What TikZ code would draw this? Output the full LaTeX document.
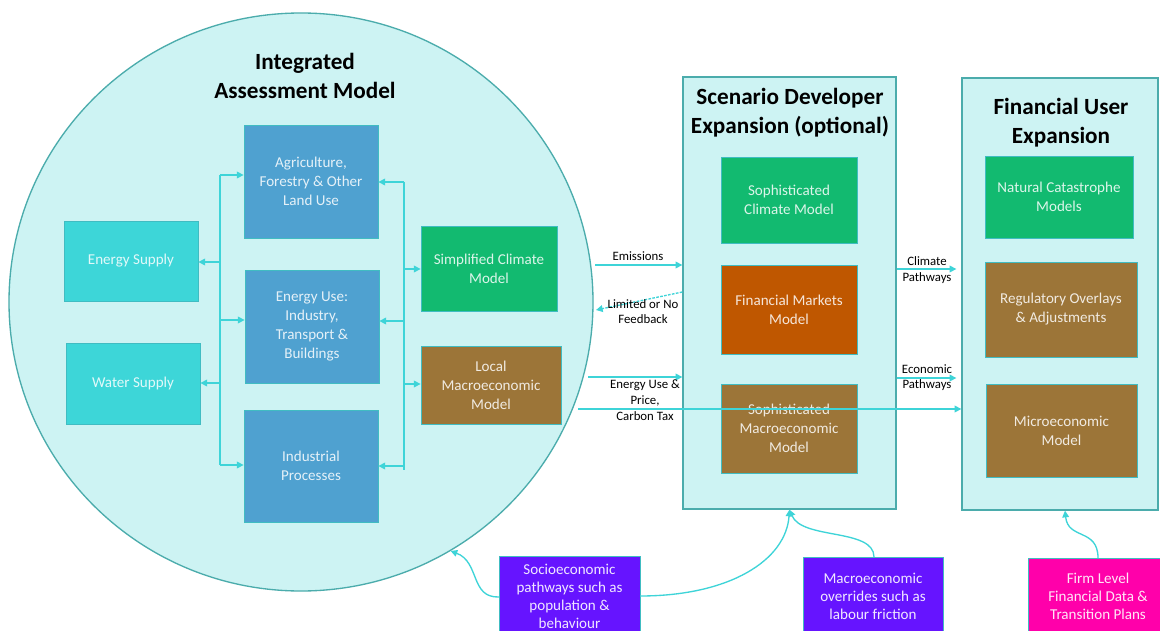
\documentclass[tikz,border=0pt]{standalone}
\usepackage{fontspec}
\setmainfont{Carlito}
\usetikzlibrary{arrows.meta,shapes.geometric}

\definecolor{panelfill}{HTML}{CDF3F3}
\definecolor{panelline}{HTML}{4BACAC}
\definecolor{boxline}{HTML}{40BCC2}
\definecolor{arrowc}{HTML}{3ED4D8}
\definecolor{cyanbox}{HTML}{3DD6D8}
\definecolor{bluebox}{HTML}{4FA1D0}
\definecolor{greenbox}{HTML}{12BA70}
\definecolor{brownbox}{HTML}{9C7538}
\definecolor{orangebox}{HTML}{BF5700}
\definecolor{purplebox}{HTML}{6614FF}
\definecolor{magentabox}{HTML}{FF00AA}

\begin{document}
\begin{tikzpicture}[x=0.75pt,y=-0.75pt,
  sz/.style 2 args={minimum width=#1*0.75pt, minimum height=#2*0.75pt},
  box/.style={draw=boxline, line width=0.6pt, text=white, text opacity=0.85,
    align=center, inner sep=2pt, font=\fontsize{11.3}{14.2}\selectfont},
  inbox/.style={box, text opacity=0.9, font=\fontsize{11.3}{13.6}\selectfont},
  panel/.style={draw=panelline, fill=panelfill, line width=1pt, inner sep=0pt},
  heading/.style={align=center, font=\fontsize{17.4}{21.5}\selectfont\bfseries},
  lbl/.style={align=center, inner sep=0pt, font=\fontsize{9.6}{11.8}\selectfont},
  link/.style={draw=arrowc, line width=1pt},
  arr/.style={link, -{Triangle[length=5pt,width=5pt]}}]

\clip (0,0) rectangle (1160,631);
\fill[white] (0,0) rectangle (1160,631);

% Integrated assessment model
\node[ellipse, panel, sz={584}{578}] (iam) at (301,302) {};
\node[heading] (iamT) at (305,76) {Integrated\\Assessment Model};

\node[box, fill=cyanbox, sz={134}{80}] (es) at (131,261) {Energy Supply};
\node[box, fill=cyanbox, sz={134}{81}] (ws) at (133,383.5) {Water Supply};
\node[box, fill=bluebox, sz={134}{113}] (agri) at (311,181.5) {Agriculture,\\Forestry \& Other\\Land Use};
\node[box, fill=bluebox, sz={134}{113}] (eu) at (312,326.5) {Energy Use:\\Industry,\\Transport \&\\Buildings};
\node[box, fill=bluebox, sz={134}{112}] (ind) at (311,466) {Industrial\\Processes};
\node[box, fill=greenbox, sz={136}{85}] (scm) at (489,268.5) {Simplified Climate\\Model};
\node[box, fill=brownbox, sz={140}{78}] (lmm) at (491,385) {Local\\Macroeconomic\\Model};

% Scenario developer expansion
\node[panel, sz={213}{432}] (sd) at (789.5,293) {};
\node[heading] (sdT) at (790,112.5) {Scenario Developer\\Expansion (optional)};
\node[box, fill=greenbox, sz={136}{86}] (sclim) at (789,200) {Sophisticated\\Climate Model};
\node[box, fill=orangebox, sz={136}{89}] (fmm) at (789,309.5) {Financial Markets\\Model};
\node[box, fill=brownbox, sz={136}{89}] (smac) at (789,428.5) {Sophisticated\\Macroeconomic\\Model};

% Financial user expansion
\node[panel, sz={196}{432}] (fu) at (1060,294) {};
\node[heading] (fuT) at (1061,122.5) {Financial User\\Expansion};
\node[box, fill=greenbox, sz={148}{82}] (ncat) at (1059,197) {Natural Catastrophe\\Models};
\node[box, fill=brownbox, sz={152}{95}] (reg) at (1061,309.5) {Regulatory Overlays\\\& Adjustments};
\node[box, fill=brownbox, sz={151}{93}] (micro) at (1061.5,430.5) {Microeconomic\\Model};

% External inputs
\node[inbox, fill=purplebox, sz={141}{80}] (socio) at (569.5,596.5) {Socioeconomic\\pathways such as\\population \&\\behaviour};
\node[inbox, fill=purplebox, sz={140}{78}] (macro) at (873,596) {Macroeconomic\\overrides such as\\labour friction};
\node[inbox, fill=magentabox, sz={140}{77}] (firm) at (1098,596.5) {Firm Level\\Financial Data \&\\Transition Plans};

% Left bus inside the model
\coordinate (lbA) at (220,175);
\coordinate (lbB) at (220,465);
\coordinate (lbC) at (220,320);
\coordinate (lbD) at (220,262);
\coordinate (lbE) at (220,383);
\draw[link] (lbA) -- (lbB);
\draw[arr] (lbA) -- (lbA -| agri.west);
\draw[arr] (lbC) -- (lbC -| eu.west);
\draw[arr] (lbB) -- (lbB -| ind.west);
\draw[arr] (lbD) -- (lbD -| es.east);
\draw[arr] (lbE) -- (lbE -| ws.east);

% Right bus inside the model
\coordinate (rbA) at (404,182);
\coordinate (rbB) at (404,470);
\coordinate (rbC) at (404,321);
\coordinate (rbD) at (404,466);
\coordinate (rbE) at (404,269);
\coordinate (rbF) at (404,384);
\draw[link] (rbA) -- (rbB);
\draw[arr] (rbA) -- (rbA -| agri.east);
\draw[arr] (rbC) -- (rbC -| eu.east);
\draw[arr] (rbD) -- (rbD -| ind.east);
\draw[arr] (rbE) -- (rbE -| scm.west);
\draw[arr] (rbF) -- (rbF -| lmm.west);

% Flows between the blocks
\coordinate (emA) at (595,265);
\draw[arr] (emA) -- (emA -| sd.west);
\node[lbl] (emL) at (638,256) {Emissions};

\coordinate (fbA) at (683,292);
\coordinate (fbB) at (596,310);
\draw[arr, dash pattern=on 2pt off 1pt] (fbA -| sd.west) -- (fbB);
\node[lbl] (fbL) at (643,311.5) {Limited or No\\Feedback};

\coordinate (euA) at (588,377);
\draw[arr] (euA) -- (euA -| sd.west);
\node[lbl, font=\fontsize{9.6}{12}\selectfont] (euL) at (645,400) {Energy Use \&\\Price,\\Carbon Tax};

\coordinate (ltA) at (578,409);
\draw[arr] (ltA) -- (ltA -| fu.west);

\coordinate (cpA) at (896,269);
\draw[arr, shorten >=3.75pt] (cpA -| sd.east) -- (cpA -| fu.west);
\node[lbl] (cpL) at (927,270) {Climate\\Pathways};

\coordinate (epA) at (896,378);
\draw[arr, shorten >=3.75pt] (epA -| sd.east) -- (epA -| fu.west);
\node[lbl] (epL) at (927,377.5) {Economic\\Pathways};

% Inputs feeding the blocks
\coordinate (soW) at (499,597);
\coordinate (soE) at (640,596);
\coordinate (maN) at (874,557);
\coordinate (fiN) at (1098,558);
\draw[arr] (soW) .. controls (470,598) and (480,562) .. (iam.-59);
\draw[arr] (soE) .. controls (730,596) and (786,560) .. (sd.south);
\draw[arr] (maN) .. controls (874,528) and (802,540) .. (sd.south);
\draw[arr] (fiN) .. controls (1098,528) and (1068,540) .. ([xshift=3.75pt]fu.south);

\end{tikzpicture}
\end{document}
